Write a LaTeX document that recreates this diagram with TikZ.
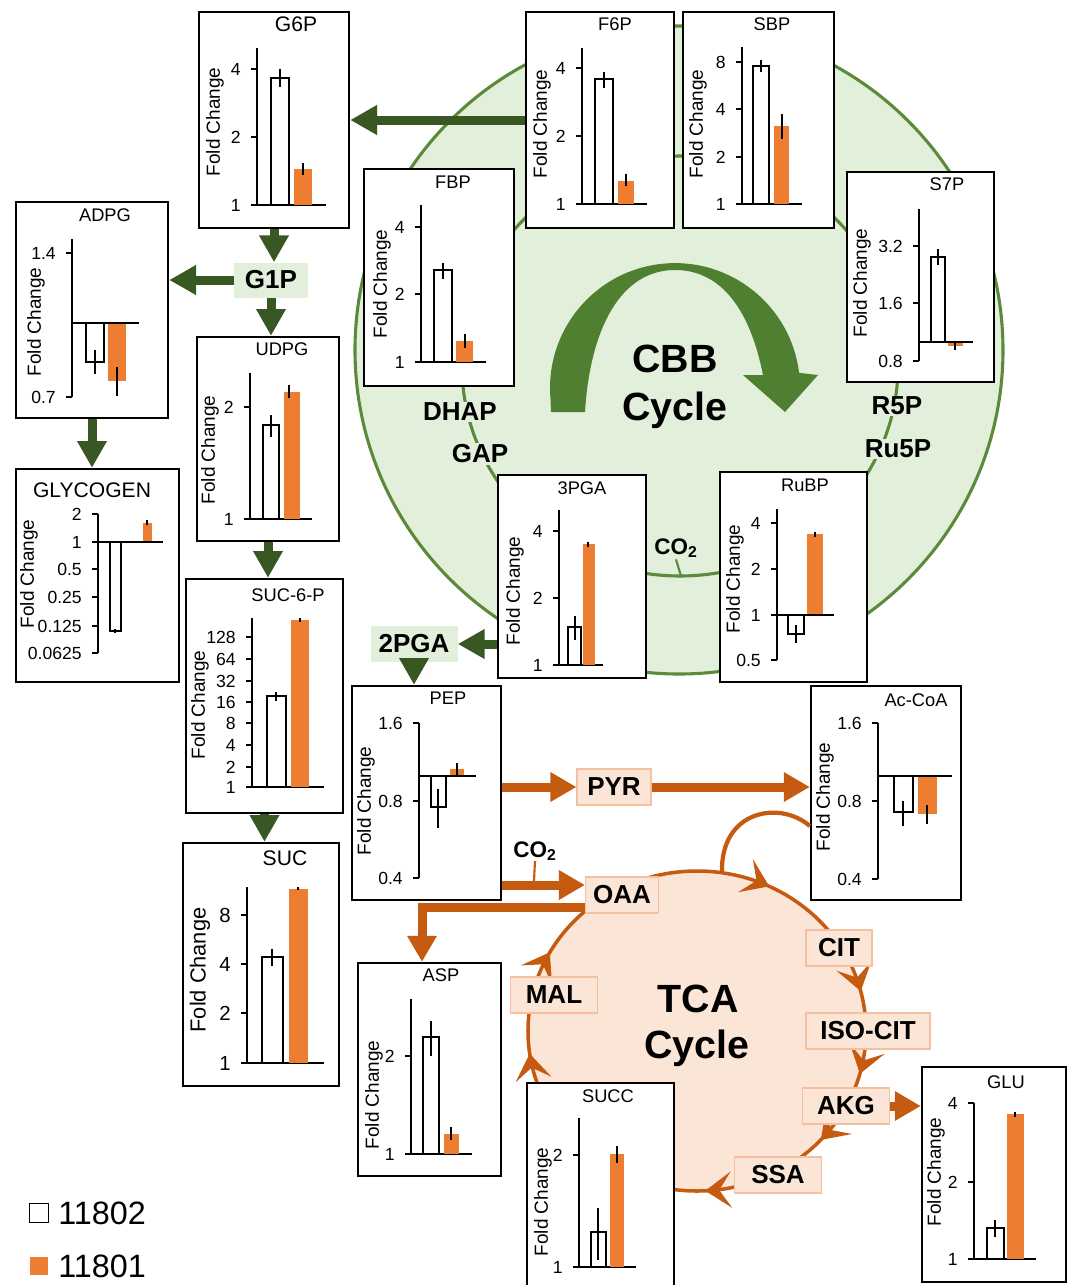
\documentclass[tikz,border=0pt]{standalone}
\usepackage{fontspec}
\setmainfont{Liberation Sans}
\usetikzlibrary{arrows.meta,decorations.markings}
\definecolor{cbbfill}{HTML}{E2EFDA}
\definecolor{cbbline}{HTML}{5A8A3A}
\definecolor{cbbarrow}{HTML}{4F7F31}
\definecolor{dkgreen}{HTML}{385723}
\definecolor{tcafill}{HTML}{FBE5D6}
\definecolor{tcaline}{HTML}{C55A11}
\definecolor{tcaedge}{HTML}{F4C09F}
\definecolor{barorange}{HTML}{ED7D31}
\newcommand{\px}{0.025cm}
\tikzset{
  cbox/.style={draw=black,line width=1.7pt,fill=white,inner sep=0pt},
  ax/.style={black,line width=1.2pt},
  wbar/.style={draw=black,fill=white,line width=1.2pt},
  obar/.style={fill=barorange},
  err/.style={black,line width=0.9pt},
  ttl/.style={font=\fontsize{13}{15}\selectfont,inner sep=0pt},
  ylab/.style={rotate=90,font=\fontsize{13.5}{15}\selectfont,inner sep=0pt},
  tk/.style={font=\fontsize{12.5}{14}\selectfont,inner sep=0pt,anchor=east},
  garr/.style={-{Triangle[length=6.7mm,width=7mm]},dkgreen,line width=6.4pt},
  oarr/.style={-{Triangle[length=6.5mm,width=7mm]},tcaline,line width=6.4pt},
  gmet/.style={fill=cbbfill,font=\fontsize{18.5}{20}\bfseries\selectfont,inner sep=0pt},
  omet/.style={fill=tcafill,draw=tcaedge,line width=0.8pt,minimum height={36*\px},
    font=\fontsize{18.5}{20}\bfseries\selectfont,inner sep=0pt},
  cbblab/.style={fill=cbbfill,font=\fontsize{18.5}{20}\bfseries\selectfont,inner sep=1pt},
  big/.style={font=\fontsize{28}{32}\bfseries\selectfont,inner sep=0pt,anchor=base},
  cyc/.tip={Stealth[length=6.5mm,width=9mm,inset=3mm]},
}
% chart frame: name, x1, y1, x2, y2 (pixels)
\newcommand{\chartbox}[5]{\node[cbox,minimum width={(#4-#2)*\px},minimum height={(#5-#3)*\px}] (#1) at ({(#2+#4)/2},{(#3+#5)/2}) {};}
\newcommand{\ytk}[3]{\draw[ax] (#1,#2)--++(-6,0); \node[tk] at (#1-16,#2) {#3};}
\newcommand{\wbar}[4]{\draw[wbar] (#1,#3) rectangle (#2,#4);}
\newcommand{\obar}[4]{\fill[obar] (#1,#3) rectangle (#2,#4);}
\newcommand{\errb}[3]{\draw[err] (#1,#2)--(#1,#3);}

\begin{document}
\begin{tikzpicture}[x=0.025cm,y=-0.025cm]
  \useasboundingbox (0,0) rectangle (1072,1285);

  % CBB cycle
  \draw[cbbline,fill=cbbfill,line width=2.2pt] (679,350) circle[radius=324];
  \draw[cbbline,line width=2.2pt] (680,366) ellipse[x radius=218,y radius=210];
  \fill[cbbarrow] (551,412) -- (550.5,399) arc[start angle=175,end angle=353,radius=125]
    -- (818,375) -- (785,412) -- (743,375) -- (763,375)
    .. controls (748,300) and (715,270) .. (675,270)
    .. controls (620,270) and (590,330) .. (585,412) -- cycle;
  \node[big] (cbb1) at (675,372) {CBB};
  \node[big] (cbb2) at (675,420) {Cycle};
  \node[cbblab] (dhap) at (460,412) {DHAP};
  \node[cbblab] (gap) at (480,454) {GAP};
  \node[cbblab] (r5p) at (897,406) {R5P};
  \node[cbblab] (ru5p) at (898,449) {Ru5P};
  \node[cbblab,font=\fontsize{16}{18}\bfseries\selectfont] (co2a) at (676,548) {CO\textsubscript{2}};
  \coordinate (co2arc) at (681,576);
  \draw[cbbline,line width=1.5pt] (co2a.south) -- (co2arc);

  % TCA cycle
  \draw[tcaline,fill=tcafill,line width=2.5pt,postaction={decorate},
    decoration={markings,
      mark=at position 0.042 with {\arrow[tcaline]{cyc}},
      mark=at position 0.117 with {\arrow[tcaline]{cyc}},
      mark=at position 0.242 with {\arrow[tcaline]{cyc}},
      mark=at position 0.478 with {\arrow[tcaline]{cyc}},
      mark=at position 0.58 with {\arrow[tcaline]{cyc}},
      mark=at position 0.822 with {\arrow[tcaline]{cyc}},
      mark=at position 0.961 with {\arrow[tcaline]{cyc}}}]
    (866,1031) arc[start angle=0,end angle=360,x radius=169,y radius=160];
  \node[big] (tca1) at (698,1012) {TCA};
  \node[big] (tca2) at (697,1058) {Cycle};

  % G6P
  \chartbox{g6p}{199}{12}{349}{228}
  \node[ttl,font=\fontsize{15}{17}\selectfont] (g6pt) at (296,24) {G6P};
  \node[ylab] (g6py) at (215,122) {Fold Change};
  \draw[ax] (257,48)--(257,205);
  \ytk{257}{69}{4} \ytk{257}{137}{2} \ytk{257}{205}{1}
  \draw[ax] (257,205)--(326,205);
  \wbar{271}{289}{78}{205} \obar{294}{312}{169}{205}
  \errb{280}{69}{87} \errb{303}{163}{175}

  % F6P
  \chartbox{f6p}{526}{12}{674}{228}
  \node[ttl] (f6pt) at (615,24) {F6P};
  \node[ylab] (f6py) at (542,124) {Fold Change};
  \draw[ax] (582,48)--(582,204);
  \ytk{582}{68}{4} \ytk{582}{136}{2} \ytk{582}{204}{1}
  \draw[ax] (582,204)--(647,204);
  \wbar{595}{613}{79}{204} \obar{618}{634}{181}{204}
  \errb{604}{72}{88} \errb{626}{174}{186}

  % SBP
  \chartbox{sbp}{683}{12}{834}{228}
  \node[ttl] (sbpt) at (772,24) {SBP};
  \node[ylab] (sbpy) at (698,124) {Fold Change};
  \draw[ax] (742,47)--(742,204);
  \ytk{742}{62}{8} \ytk{742}{109}{4} \ytk{742}{157}{2} \ytk{742}{204}{1}
  \draw[ax] (742,204)--(802,204);
  \wbar{753}{769}{66}{204} \obar{774}{789}{126}{204}
  \errb{761}{60}{72} \errb{782}{114}{139}

  % FBP
  \chartbox{fbp}{364}{169}{514}{386}
  \node[ttl] (fbpt) at (453,182) {FBP};
  \node[ylab] (fbpy) at (382,284) {Fold Change};
  \draw[ax] (421,205)--(421,362);
  \ytk{421}{227}{4} \ytk{421}{294}{2} \ytk{421}{362}{1}
  \draw[ax] (421,362)--(486,362);
  \wbar{434}{452}{270}{362} \obar{456}{473}{341}{362}
  \errb{443}{263}{279} \errb{465}{334}{348}

  % S7P
  \chartbox{s7p}{847}{172}{994}{382}
  \node[ttl] (s7pt) at (947,184) {S7P};
  \node[ylab] (s7py) at (862,283) {Fold Change};
  \draw[ax] (919,209)--(919,361);
  \ytk{919}{246}{3.2} \ytk{919}{303}{1.6} \ytk{919}{361}{0.8}
  \wbar{931}{945}{257}{342} \obar{948}{963}{346}{342}
  \draw[ax] (919,342)--(973,342);
  \errb{938}{249}{265} \errb{955}{342}{350}

  % ADPG
  \chartbox{adpg}{16}{202}{168}{418}
  \node[ttl] (adpgt) at (105,215) {ADPG};
  \node[ylab] (adpgy) at (36,322) {Fold Change};
  \draw[ax] (72,239)--(72,397);
  \ytk{72}{253}{1.4} \ytk{72}{397}{0.7}
  \wbar{86}{104}{362}{323} \obar{108}{126}{381}{323}
  \draw[ax] (72,323)--(139,323);
  \errb{95}{350}{374} \errb{117}{367}{396}

  % GLYCOGEN
  \chartbox{glyc}{16}{469}{179}{682}
  \node[ttl,font=\fontsize{15}{17}\selectfont] (glyct) at (92,490) {GLYCOGEN};
  \node[ylab] (glycy) at (29,574) {Fold Change};
  \draw[ax] (98,514)--(98,653);
  \ytk{98}{514}{2} \ytk{98}{542}{1} \ytk{98}{569}{0.5} \ytk{98}{597}{0.25}
  \ytk{98}{626}{0.125} \ytk{98}{653}{0.0625}
  \wbar{110}{121}{631}{542} \obar{143}{152}{523}{542}
  \draw[ax] (98,542)--(163,542);
  \errb{115}{629}{633} \errb{147}{520}{525}

  % UDPG
  \chartbox{udpg}{197}{337}{339}{541}
  \node[ttl] (udpgt) at (282,349) {UDPG};
  \node[ylab] (udpgy) at (210,450) {Fold Change};
  \draw[ax] (250,373)--(250,519);
  \ytk{250}{407}{2} \ytk{250}{519}{1}
  \draw[ax] (250,519)--(312,519);
  \wbar{263}{279}{425}{519} \obar{284}{300}{392}{519}
  \errb{271}{415}{437} \errb{289}{385}{398}

  % SUC-6-P
  \chartbox{suc6p}{186}{579}{343}{813}
  \node[ttl] (suc6pt) at (288,595) {SUC-6-P};
  \node[ylab] (suc6py) at (200,705) {Fold Change};
  \draw[ax] (252,618)--(252,787);
  \ytk{252}{637}{128} \ytk{252}{659}{64} \ytk{252}{681}{32} \ytk{252}{702}{16}
  \ytk{252}{723}{8} \ytk{252}{745}{4} \ytk{252}{767}{2} \ytk{252}{787}{1}
  \draw[ax] (252,787)--(324,787);
  \wbar{267}{286}{696}{787} \obar{291}{309}{620}{787}
  \errb{276}{692}{701} \errb{300}{618}{622}

  % SUC
  \chartbox{suc}{183}{843}{339}{1086}
  \node[ttl,font=\fontsize{15}{17}\selectfont] (suct) at (285,858) {SUC};
  \node[ylab,font=\fontsize{15.5}{17}\selectfont] (sucy) at (200,970) {Fold Change};
  \draw[ax] (247,887)--(247,1063);
  \begin{scope}[tk/.append style={font=\fontsize{14.5}{16}\selectfont}]
    \ytk{247}{915}{8} \ytk{247}{964}{4} \ytk{247}{1013}{2} \ytk{247}{1063}{1}
  \end{scope}
  \draw[ax] (247,1063)--(324,1063);
  \wbar{262}{283}{957}{1063} \obar{289}{308}{889}{1063}
  \errb{272}{949}{966} \errb{298}{887}{890}

  % ASP
  \chartbox{asp}{358}{963}{501}{1176}
  \node[ttl] (aspt) at (441,975) {ASP};
  \node[ylab] (aspy) at (374,1095) {Fold Change};
  \draw[ax] (411,999)--(411,1154);
  \ytk{411}{1056}{2} \ytk{411}{1154}{1}
  \draw[ax] (411,1154)--(472,1154);
  \wbar{423}{439}{1037}{1154} \obar{444}{459}{1134}{1154}
  \errb{431}{1021}{1056} \errb{451}{1127}{1140}

  % PEP
  \chartbox{pep}{352}{686}{501}{900}
  \node[ttl] (pept) at (448,698) {PEP};
  \node[ylab] (pepy) at (366,801) {Fold Change};
  \draw[ax] (419,723)--(419,878);
  \ytk{419}{723}{1.6} \ytk{419}{801}{0.8} \ytk{419}{878}{0.4}
  \wbar{431}{446}{807}{776} \obar{450}{464}{769}{776}
  \draw[ax] (419,776)--(476,776);
  \errb{438}{789}{828} \errb{457}{763}{776}

  % Ac-CoA
  \chartbox{acoa}{811}{686}{961}{900}
  \node[ttl] (acoat) at (916,700) {Ac-CoA};
  \node[ylab] (acoay) at (825,797) {Fold Change};
  \draw[ax] (878,723)--(878,879);
  \ytk{878}{723}{1.6} \ytk{878}{801}{0.8} \ytk{878}{879}{0.4}
  \wbar{894}{913}{812}{776} \obar{918}{937}{814}{776}
  \draw[ax] (878,776)--(952,776);
  \errb{903}{801}{826} \errb{927}{805}{824}

  % 3PGA
  \chartbox{pga3}{498}{475}{646}{678}
  \node[ttl] (pga3t) at (582,488) {3PGA};
  \node[ylab] (pga3y) at (515,591) {Fold Change};
  \draw[ax] (559,510)--(559,665);
  \ytk{559}{531}{4} \ytk{559}{598}{2} \ytk{559}{665}{1}
  \draw[ax] (559,665)--(603,665);
  \wbar{568}{581}{627}{665} \obar{583}{595}{544}{665}
  \errb{575}{616}{640} \errb{588}{542}{547}

  % RuBP
  \chartbox{rubp}{720}{472}{867}{682}
  \node[ttl] (rubpt) at (805,485) {RuBP};
  \node[ylab] (rubpy) at (735,579) {Fold Change};
  \draw[ax] (777,509)--(777,660);
  \ytk{777}{523}{4} \ytk{777}{569}{2} \ytk{777}{615}{1} \ytk{777}{660}{0.5}
  \wbar{788}{804}{634}{615} \obar{807}{823}{534}{615}
  \draw[ax] (777,615)--(834,615);
  \errb{796}{625}{643} \errb{815}{532}{537}

  % SUCC
  \chartbox{succ}{527}{1083}{674}{1292}
  \node[ttl] (succt) at (608,1096) {SUCC};
  \node[ylab] (succy) at (543,1202) {Fold Change};
  \draw[ax] (579,1118)--(579,1267);
  \ytk{579}{1155}{2} \ytk{579}{1267}{1}
  \draw[ax] (579,1267)--(636,1267);
  \wbar{591}{606}{1232}{1267} \obar{610}{624}{1154}{1267}
  \errb{598}{1208}{1260} \errb{617}{1146}{1163}

  % GLU
  \chartbox{glu}{922}{1067}{1066}{1282}
  \node[ttl] (glut) at (1006,1082) {GLU};
  \node[ylab] (gluy) at (936,1172) {Fold Change};
  \draw[ax] (974,1103)--(974,1259);
  \ytk{974}{1103}{4} \ytk{974}{1182}{2} \ytk{974}{1259}{1}
  \draw[ax] (974,1259)--(1036,1259);
  \wbar{987}{1004}{1228}{1259} \obar{1007}{1024}{1114}{1259}
  \errb{995}{1220}{1237} \errb{1015}{1112}{1117}

  % metabolite labels
  \node[gmet,minimum width={74*\px},minimum height={35*\px}] (g1p) at (271,280) {G1P};
  \node[gmet,minimum width={87*\px},minimum height={36*\px}] (pga2) at (414,644) {2PGA};
  \node[omet,minimum width={74*\px}] (pyr) at (614,787) {PYR};
  \node[omet,minimum width={73*\px}] (oaa) at (622,895) {OAA};
  \node[omet,minimum width={66*\px}] (cit) at (839,948) {CIT};
  \node[omet,minimum width={124*\px}] (isocit) at (868,1031) {ISO-CIT};
  \node[omet,minimum width={87*\px}] (akg) at (846,1106) {AKG};
  \node[omet,minimum width={87*\px}] (ssa) at (778,1175) {SSA};
  \node[omet,minimum width={87*\px}] (mal) at (554,995) {MAL};
  \node[font=\fontsize{16}{18}\bfseries\selectfont,inner sep=0pt] (co2b) at (535,851) {CO\textsubscript{2}};
  \coordinate (co2bt) at (534,881);
  \draw[tcaline,line width=1.5pt] (co2b.south) -- (co2bt);

  % green connectors
  \draw[garr] (f6p.west) -- (g6p.east);
  \draw[garr] (g6p.south) -- (g6p.south |- g1p.north);
  \draw[garr] (g1p.west) -- (g1p.west -| adpg.east);
  \draw[garr] (g1p.south) -- (g1p.south |- udpg.north);
  \draw[garr] (adpg.south) -- (adpg.south |- glyc.north);
  \draw[garr] (udpg.south) -- (udpg.south |- suc6p.north);
  \draw[garr] (suc6p.south) -- (suc6p.south |- suc.north);
  \draw[garr] (pga3.west |- pga2.east) -- (pga2.east);
  \draw[garr] (pga2.south) -- (pga2.south |- pep.north);

  % orange connectors
  \draw[oarr] (pep.east |- pyr.west) -- (pyr.west);
  \draw[oarr] (pyr.east) -- (pyr.east -| acoa.west);
  \draw[oarr] (pep.east |- 0,885) -- (oaa.west |- 0,885);
  \draw[oarr] (oaa.west |- 0,907) -| (asp.north -| 422,0);
  \draw[oarr] (akg.east) -- (akg.east -| glu.west);
  \draw[tcaline,line width=3pt] (722,873) .. controls (720,810) and (780,800) .. (acoa.west |- 0,826);

  % legend
  \node[draw=black,line width=1.3pt,minimum size={19*\px},inner sep=0pt] (lgw) at (39,1213) {};
  \node[anchor=west,font=\fontsize{23}{26}\selectfont,inner sep=0pt] (lgwt) at (58,1213) {11802};
  \node[fill=barorange,minimum size={18*\px},inner sep=0pt] (lgo) at (39,1266) {};
  \node[anchor=west,font=\fontsize{23}{26}\selectfont,inner sep=0pt] (lgot) at (58,1266) {11801};
\end{tikzpicture}
\end{document}
